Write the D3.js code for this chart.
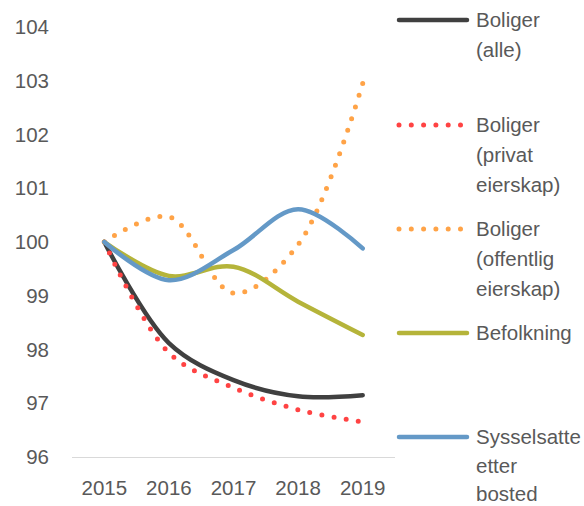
<!DOCTYPE html>
<html>
<head>
<meta charset="utf-8">
<script src="https://cdn.jsdelivr.net/npm/d3@7"></script>
<style>
  body { margin: 0; background: #fff; }
  svg { display: block; font-family: "Liberation Sans", Arial, sans-serif; }
</style>
</head>
<body>
<svg id="chart" width="584" height="506"></svg>
<script>
const years = ["2015", "2016", "2017", "2018", "2019"];
const yTicks = [96, 97, 98, 99, 100, 101, 102, 103, 104];

const boligerAlle = [100, 98.12, 97.43, 97.13, 97.15];
const boligerPrivat = [100, 97.94, 97.29, 96.88, 96.65];
const boligerOffentlig = [100, 100.47, 99.05, 99.95, 102.95];
const befolkning = [100, 99.37, 99.54, 98.89, 98.27];
const sysselsatte = [100, 99.29, 99.85, 100.61, 99.88];

const series = [
  { name: ["Boliger", "(alle)"], values: boligerAlle, color: "#404040", dotted: false, ly: 20, gap: 30 },
  { name: ["Boliger", "(privat", "eierskap)"], values: boligerPrivat, color: "#ff4343", dotted: true, ly: 125, gap: 30 },
  { name: ["Boliger", "(offentlig", "eierskap)"], values: boligerOffentlig, color: "#ffa347", dotted: true, ly: 229, gap: 30 },
  { name: ["Befolkning"], values: befolkning, color: "#b5b43a", dotted: false, ly: 333, gap: 30 },
  { name: ["Sysselsatte", "etter", "bosted"], values: sysselsatte, color: "#6499c7", dotted: false, ly: 437, gap: 28.5 }
];

const svg = d3.select("#chart");
const plotLeft = 72, plotRight = 395, plotTop = 27, plotBottom = 457;

const x = d3.scaleBand().domain(years).range([plotLeft, plotRight]).padding(0);
const y = d3.scaleLinear().domain([96, 104]).range([plotBottom, plotTop]);
const textColor = "#595959";

// y labels
svg.append("g").selectAll("text")
  .data(yTicks)
  .join("text")
  .attr("x", 49)
  .attr("y", d => y(d))
  .attr("dy", "0.35em")
  .attr("text-anchor", "end")
  .attr("fill", textColor)
  .style("font-size", "20.5px")
  .text(d => d);

// x axis line
svg.append("line")
  .attr("x1", plotLeft).attr("x2", plotRight)
  .attr("y1", plotBottom + 0.5).attr("y2", plotBottom + 0.5)
  .attr("stroke", "#d9d9d9")
  .attr("stroke-width", 1);

svg.append("g").selectAll("text")
  .data(years)
  .join("text")
  .attr("x", d => x(d) + x.bandwidth() / 2)
  .attr("y", 488)
  .attr("dy", "0.35em")
  .attr("text-anchor", "middle")
  .attr("fill", textColor)
  .style("font-size", "20.5px")
  .text(d => d);

const line = d3.line()
  .x((d, i) => x(years[i]) + x.bandwidth() / 2)
  .y(d => y(d))
  .curve(d3.curveCatmullRom.alpha(0.5));

series.forEach(s => {
  svg.append("path")
    .datum(s.values)
    .attr("d", line)
    .attr("fill", "none")
    .attr("stroke", s.color)
    .attr("stroke-width", s.dotted ? 5 : 4.5)
    .attr("stroke-linecap", "round")
    .attr("stroke-linejoin", "round")
    .attr("stroke-dasharray", s.dotted ? "0 12.3" : null);
});

// legend
const legend = svg.append("g");
series.forEach(s => {
  legend.append("line")
    .attr("x1", 399).attr("x2", 467)
    .attr("y1", s.ly).attr("y2", s.ly)
    .attr("stroke", s.color)
    .attr("stroke-width", s.dotted ? 5 : 4.5)
    .attr("stroke-linecap", "round")
    .attr("stroke-dasharray", s.dotted ? "0 12.3" : null);
  s.name.forEach((t, j) => {
    legend.append("text")
      .attr("x", 476)
      .attr("y", s.ly + j * s.gap)
      .attr("dy", "0.35em")
      .attr("fill", textColor)
      .style("font-size", "20.5px")
      .text(t);
  });
});
</script>
</body>
</html>
